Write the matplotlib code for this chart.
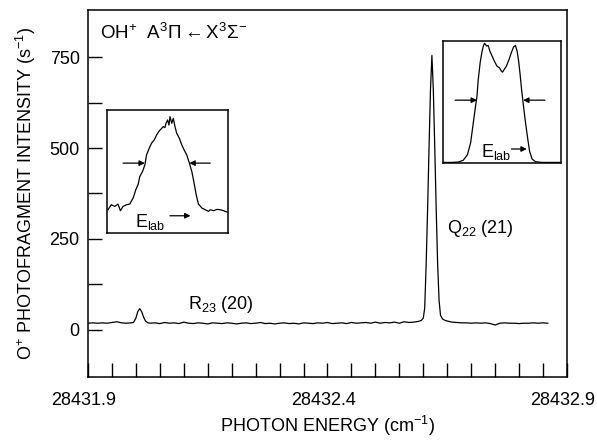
import numpy as np
import matplotlib.pyplot as plt
import matplotlib.transforms as mtransforms
from matplotlib.ticker import FixedLocator

plt.rcParams['font.family'] = ['Liberation Sans', 'DejaVu Sans']
plt.rcParams['mathtext.fontset'] = 'custom'
plt.rcParams['mathtext.rm'] = 'Liberation Sans'
plt.rcParams['mathtext.it'] = 'Liberation Sans'

# main spectrum: photon energy (cm-1) and O+ photofragment intensity (s-1)
energy = [28431.900, 28431.910, 28431.920, 28431.930, 28431.940, 28431.950, 28431.960,
          28431.970, 28431.980, 28431.990, 28431.995, 28432.000, 28432.004, 28432.008,
          28432.012, 28432.016, 28432.020, 28432.025, 28432.030, 28432.040, 28432.050,
          28432.060, 28432.070, 28432.080, 28432.090, 28432.100, 28432.110, 28432.120,
          28432.130, 28432.140, 28432.150, 28432.160, 28432.170, 28432.180, 28432.190,
          28432.200, 28432.210, 28432.220, 28432.230, 28432.240, 28432.250, 28432.260,
          28432.270, 28432.280, 28432.290, 28432.300, 28432.310, 28432.320, 28432.330,
          28432.340, 28432.350, 28432.360, 28432.370, 28432.380, 28432.390, 28432.400,
          28432.410, 28432.420, 28432.430, 28432.440, 28432.450, 28432.460, 28432.470,
          28432.480, 28432.490, 28432.500, 28432.510, 28432.520, 28432.530, 28432.540,
          28432.550, 28432.560, 28432.570, 28432.580, 28432.590, 28432.596, 28432.600,
          28432.603, 28432.606, 28432.609, 28432.612, 28432.615, 28432.618, 28432.621,
          28432.624, 28432.627, 28432.630, 28432.633, 28432.636, 28432.640, 28432.645,
          28432.650, 28432.660, 28432.670, 28432.680, 28432.690, 28432.700, 28432.710,
          28432.720, 28432.730, 28432.740, 28432.750, 28432.760, 28432.770, 28432.780,
          28432.790, 28432.800, 28432.810, 28432.820, 28432.830, 28432.840, 28432.850,
          28432.860]
intensity = [18, 19, 18, 19, 18, 20, 22,
             19, 18, 19, 20, 32, 50, 58,
             50, 35, 24, 19, 18, 19, 17,
             20, 18, 19, 17, 21, 18, 17,
             19, 18, 16, 19, 18, 17, 19,
             18, 16, 18, 19, 17, 18, 20,
             17, 18, 16, 18, 19, 17, 18,
             16, 19, 18, 17, 19, 18, 20,
             17, 18, 19, 17, 20, 18, 19,
             20, 18, 21, 18, 20, 19, 21,
             18, 22, 20, 21, 23, 26, 32,
             60, 180, 330, 500, 660, 755, 660,
             500, 330, 180, 80, 40, 30, 26,
             24, 21, 20, 19, 19, 18, 19,
             18, 19, 17, 13, 18, 19, 18,
             18, 17, 18, 18, 19, 18, 19,
             18]

# inset 1: lab-frame profile of R23(20) (arbitrary units)
tof1 = [0.8, 3.6, 6.4, 9.1, 11.1, 13.3, 16.1, 18.8, 21.6, 23.8, 25.8, 27.1, 29.4, 31.3,
        32.7, 34.9, 36.8, 39.1, 41.0, 43.2, 45.2, 46.5, 47.9, 48.8, 50.1, 51.2, 52.1,
        53.5, 54.8, 56.2, 57.6, 59.8, 61.8, 63.7, 65.9, 68.1, 70.1, 72.0, 73.7, 75.6,
        78.4, 81.2, 83.9, 85.3, 88.1, 90.9, 93.6, 96.4, 99.2]
sig1 = [18.9, 23.0, 21.6, 23.5, 18.1, 21.6, 23.0, 23.5, 28.4, 35.1, 39.7, 45.9, 50.0, 55.4,
        63.5, 68.9, 73.0, 75.7, 79.7, 83.0, 85.1, 86.5, 85.7, 89.2, 91.9, 87.8, 94.6,
        89.2, 93.2, 86.5, 81.1, 77.0, 71.6, 67.6, 63.5, 56.8, 50.0, 40.5, 31.1, 23.5,
        20.3, 18.9, 17.6, 18.9, 18.1, 19.2, 18.9, 18.1, 17.0]

# inset 2: lab-frame profile of Q22(21) (arbitrary units)
tof2 = [0.0, 7.6, 13.0, 17.1, 20.7, 23.4, 25.3, 27.2, 28.8, 29.9, 31.5, 32.9, 34.2, 35.3,
        37.0, 38.3, 39.7, 41.6, 43.5, 45.7, 47.8, 49.5, 50.5, 51.9, 53.8, 56.0, 57.9,
        59.8, 61.4, 62.8, 64.1, 65.2, 66.6, 67.9, 69.6, 71.5, 73.4, 75.5, 78.3, 83.7, 98.6]
sig2 = [0.5, 0.5, 0.8, 2.2, 6.8, 16.4, 30.1, 43.8, 54.8, 68.5, 82.2, 90.4, 95.9, 98.1,
        95.9, 96.4, 91.8, 87.7, 83.6, 79.5, 78.1, 75.3, 74.5, 76.7, 79.5, 84.9, 90.4,
        95.1, 96.4, 91.8, 83.6, 74.0, 60.3, 49.3, 35.6, 21.9, 9.6, 3.3, 1.1, 0.5, 0.5]

xticks = [28431.9, 28432.4, 28432.9]
xtick_labels = ['28431.9', '28432.4', '28432.9']
xminor = [28431.95, 28432.0, 28432.05, 28432.1, 28432.15, 28432.2, 28432.25, 28432.3,
          28432.35, 28432.45, 28432.5, 28432.55, 28432.6, 28432.65, 28432.7, 28432.75,
          28432.8, 28432.85]
yticks = [0, 250, 500, 750]
yminor = [125, 375, 625]

fig = plt.figure(figsize=(5.97, 4.40), dpi=100)
ax = fig.add_axes([0.1474, 0.1432, 0.8023, 0.8341])
ax.plot(energy, intensity, color='black', lw=0.9)
ax.set_xlim(28431.9, 28432.9)
ax.set_ylim(-130, 880)

ax.set_xticks(xticks)
ax.set_xticklabels(xtick_labels)
ax.xaxis.set_minor_locator(FixedLocator(xminor))
ax.set_yticks(yticks)
ax.yaxis.set_minor_locator(FixedLocator(yminor))
ax.tick_params(which='both', direction='in', length=10, width=1, top=False, right=False,
               labelsize=13, colors='black')
ax.tick_params(axis='x', pad=11)
ax.tick_params(axis='y', pad=6)
for s in ax.spines.values():
    s.set_linewidth(1.1)

# tick labels sit a few pixels left of their ticks in the original
shift = mtransforms.ScaledTranslation(-4 / 100, 0, fig.dpi_scale_trans)
for lab in ax.get_xticklabels():
    lab.set_transform(lab.get_transform() + shift)

ax.set_xlabel('PHOTON ENERGY (cm$^{-1}$)', fontsize=13, labelpad=3)
ax.set_ylabel('O$^{+}$ PHOTOFRAGMENT INTENSITY (s$^{-1}$)', fontsize=13, labelpad=8)

ax.text(0.025, 0.937, r'OH$^{+}$  A$^{3}\Pi\leftarrow$X$^{3}\Sigma^{-}$', transform=ax.transAxes,
        fontsize=13.5, va='center', ha='left')
ax.text(28432.109, 58, r'R$_{23}$ (20)', fontsize=13, va='baseline')
ax.text(28432.649, 266, r'Q$_{22}$ (21)', fontsize=13, va='baseline')

arrow = dict(arrowstyle='-|>', color='black', lw=0.9, mutation_scale=8,
             shrinkA=0, shrinkB=0)


def draw_inset(rect, x, y, left_arrow, right_arrow, arrow_y, text_x, elab_arrow):
    ins = fig.add_axes(rect)
    ins.plot(x, y, color='black', lw=0.9)
    ins.set_xlim(0, 100)
    ins.set_ylim(0, 100)
    ins.set_xticks([])
    ins.set_yticks([])
    for s in ins.spines.values():
        s.set_linewidth(1.1)
    ins.annotate('', xy=(left_arrow[1], arrow_y), xytext=(left_arrow[0], arrow_y),
                 arrowprops=arrow)
    ins.annotate('', xy=(right_arrow[1], arrow_y), xytext=(right_arrow[0], arrow_y),
                 arrowprops=arrow)
    ins.text(text_x, 9, r'E$_{\rm lab}$', fontsize=13, va='center', ha='left')
    ins.annotate('', xy=(elab_arrow[1], elab_arrow[2]), xytext=(elab_arrow[0], elab_arrow[2]),
                 arrowprops=arrow)
    return ins


draw_inset([0.1792, 0.4705, 0.2027, 0.2795], tof1, sig1,
           (13.3, 31.3), (85.3, 68.1), 56.8, 23, (52, 69, 14))
draw_inset([0.7420, 0.6295, 0.1977, 0.2773], tof2, sig2,
           (10.3, 28.8), (86.4, 67.9), 51.5, 32, (58, 71, 11.5))

fig.savefig('out.png', dpi=100)
